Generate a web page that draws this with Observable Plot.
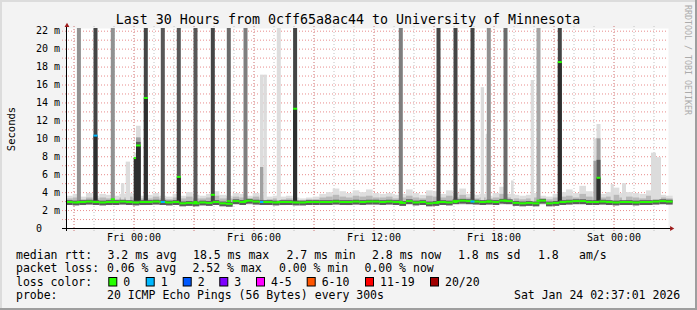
<!DOCTYPE html>
<html><head><meta charset="utf-8">
<script src="https://cdn.jsdelivr.net/npm/d3@7"></script>
<script src="https://cdn.jsdelivr.net/npm/@observablehq/plot@0.6"></script>
<style>
html,body{margin:0;padding:0;background:#f3f3f3;}
#wrap{position:relative;width:697px;height:310px;background:#f3f3f3;overflow:hidden;}
#wrap svg{position:absolute;left:0;top:0;}
</style></head><body><div id="wrap"></div>
<script>
// ---------------- DATA ----------------
// time axis in hours after Thu 21:00
const xTickPos = [3, 9, 15, 21, 27];
const xTickLabels = ["Fri 00:00", "Fri 06:00", "Fri 12:00", "Fri 18:00", "Sat 00:00"];
const yTickPos = [0, 2, 4, 6, 8, 10, 12, 14, 16, 18, 20, 22];
const yTickLabels = ["0\u00a0\u00a0\u00a0", "2 m", "4 m", "6 m", "8 m", "10 m", "12 m", "14 m", "16 m", "18 m", "20 m", "22 m"];
const xStart = -0.375, xEnd = 29.725, yTop = 22.3;

// baseline smoke, 20-minute blocks starting at xStart (values in ms, axis shows "m")
const baseStepMinutes = 20;
const baseMed = [2.9,2.85,2.9,2.95,2.9,2.85,2.9,2.9,2.95,2.9,
 2.85,2.9,2.9,2.95,2.9,2.85,2.9,2.75,2.8,2.75,
 2.85,2.8,2.9,2.75,2.7,3.0,2.9,3.05,2.95,2.9,
 2.9,2.85,2.9,2.9,2.85,2.85,2.9,2.9,2.9,2.9,
 2.95,2.9,2.9,2.95,2.9,2.95,2.95,2.9,2.95,2.9,
 2.8,3.0,2.85,2.9,2.75,2.8,2.9,2.85,3.0,3.05,
 3.0,2.95,2.9,2.95,2.9,3.05,3.0,2.8,2.75,2.8,
 2.75,3.05,2.75,2.8,2.9,2.95,3.0,3.0,2.9,2.9,
 2.95,2.9,2.85,2.9,2.9,2.85,2.9,2.9,2.95,3.0,2.95];
const baseLo = [2.6,2.6,2.55,2.6,2.6,2.6,2.55,2.6,2.6,2.6,
 2.6,2.55,2.6,2.6,2.6,2.55,2.6,2.5,2.5,2.55,
 2.6,2.55,2.6,2.5,2.5,2.6,2.6,2.6,2.55,2.6,
 2.6,2.6,2.55,2.6,2.6,2.55,2.6,2.6,2.6,2.6,
 2.6,2.6,2.55,2.6,2.6,2.6,2.6,2.6,2.6,2.6,
 2.5,2.6,2.55,2.6,2.5,2.55,2.6,2.55,2.6,2.6,
 2.6,2.6,2.6,2.6,2.6,2.6,2.6,2.55,2.5,2.55,
 2.5,2.6,2.5,2.55,2.6,2.6,2.6,2.6,2.6,2.6,
 2.6,2.6,2.55,2.6,2.6,2.55,2.6,2.6,2.6,2.6,2.6];
const baseMid = [3.3,3.4,3.2,3.4,3.3,3.4,3.3,3.2,3.4,3.5,
 3.3,3.3,3.3,3.5,3.3,3.2,3.4,3.3,3.5,3.3,
 3.3,3.4,3.6,3.3,3.3,3.5,3.4,3.3,3.5,3.3,
 3.2,3.3,3.2,3.3,3.1,3.1,3.2,3.2,3.4,3.5,
 3.7,3.5,3.4,3.6,3.5,3.6,3.4,3.4,3.5,3.3,
 3.4,3.6,3.4,3.3,3.6,3.5,3.4,3.6,3.4,3.7,
 3.4,3.3,3.4,3.3,3.4,3.8,3.4,3.3,3.2,3.3,
 3.4,3.3,3.2,3.4,3.5,3.6,3.4,3.8,3.5,3.4,
 3.4,3.5,3.7,3.4,3.5,3.4,3.3,3.6,3.4,3.4,3.3];
const baseHi = [3.6,3.8,3.5,3.9,3.6,3.8,3.7,3.6,3.8,3.9,
 3.7,3.6,3.7,3.9,3.6,3.5,3.8,3.6,4.0,3.7,
 3.6,3.8,4.1,3.7,3.6,3.9,3.8,3.6,3.9,3.7,
 3.5,3.6,3.5,3.6,3.4,3.3,3.4,3.5,3.8,4.0,
 4.4,4.1,3.9,4.2,4.0,4.3,3.9,3.8,3.9,3.7,
 3.8,4.3,3.9,3.7,4.2,4.1,3.8,4.2,3.9,4.4,
 3.8,3.7,3.8,3.6,3.9,4.6,3.8,3.7,3.6,3.7,
 3.9,3.6,3.5,3.8,4.0,4.3,3.9,4.7,4.1,3.9,
 3.8,4.0,4.5,3.9,4.0,3.9,3.8,4.2,3.9,3.7,3.6];

// spikes where some pings exceed the top of the graph
const spikeLow = 2.7;
const spikeMinutes = 12;
const spikeT    = [0.17, 1.0, 1.865, 3.515, 4.365, 5.165, 6.0, 6.865, 7.665, 8.5, 10.165, 10.98, 16.265, 18.15, 19.0, 19.85, 20.665, 21.5, 23.15, 24.215];
const spikeHigh = [5, 9, 5, 9, 8, 8, 8, 9, 7, 6, 1, 9, 6, 9, 9, 9, 5, 7, 4, 9]; // pings above top
const spikeMed  = [2.9, 10.3, 3.2, 14.5, 2.9, 5.7, 2.9, 3.7, 3.0, 3.0, 2.9, 13.3, 2.9, 2.9, 2.9, 2.95, 2.95, 3.05, 3.05, 18.5];
const spikeLoss = [0, 1, 0, 0, 1, 0, 0, 0, 0, 0, 0, 0, 0, 0, 0, 1, 0, 0, 0, 0];

// smaller bursts that stay inside the graph
const partT       = [2.375, 2.61, 3.01, 3.125, 9.325, 9.5, 20.36, 20.61, 21.875, 22.86, 26.0, 26.15, 26.86, 27.425, 28.875, 29.125];
const partMinutes = [10, 13, 7, 14, 10, 10, 10, 5, 8, 10, 9, 12, 9, 12, 15, 15];
const partLight   = [5.0, 7.4, 8.4, 11.4, 17.1, 17.1, 15.7, 10.5, 5.3, 16.5, 10.0, 11.6, 4.9, 5.0, 8.4, 7.9];
const partMid     = [null, null, null, 10.1, 6.8, null, null, null, null, null, 7.5, 10.0, null, null, null, null];
const partDark    = [null, null, null, 9.6, null, null, null, null, null, null, null, 7.6, null, null, null, null];
const partMed     = [null, null, 7.8, 9.2, 2.9, null, null, null, null, null, null, 5.6, null, null, null, null];
const partLoss    = [0, 0, 0, 0, 1, 0, 0, 0, 0, 0, 0, 0, 0, 0, 0, 0];

// legend
const lossLabels = ["0", "1", "2", "3", "4-5", "6-10", "11-19", "20/20"];
const lossColors = ["#26ff00", "#00b8ff", "#0059ff", "#7e00ff", "#ff00ff", "#ff5500", "#ff0000", "#a10000"];
const titleText = "Last 30 Hours from 0cff65a8ac44 to University of Minnesota";
const statsRtt = [["median rtt:", 16], ["3.2 ms avg", 107.5], ["18.5 ms max", 193], ["2.7 ms min", 286.5], ["2.8 ms now", 372], ["1.8 ms sd", 458], ["1.8", 538], ["am/s", 579]];
const statsLoss = [["packet loss:", 16], ["0.06 % avg", 107], ["2.52 % max", 192.5], ["0.00 % min", 279], ["0.00 % now", 364.5]];
const probeRow = [["probe:", 16], ["20 ICMP Echo Pings (56 Bytes) every 300s", 107], ["Sat Jan 24 02:37:01 2026", 514]];

// ---------------- BUILD ----------------
const smokeGray = k => { const v = Math.round(190 / 10 * (10 - k) + 50); return `rgb(${v},${v},${v})`; };
const base = baseMed.map((m, i) => ({t0: xStart + i * baseStepMinutes / 60, t1: xStart + (i + 1) * baseStepMinutes / 60, med: m, lo: baseLo[i], mid: baseMid[i], hi: baseHi[i]}));
const spikes = spikeT.map((t, i) => ({t0: t, t1: t + spikeMinutes / 60, k: spikeHigh[i], med: spikeMed[i], loss: spikeLoss[i], low: spikeLow, top: yTop}));
const parts = partT.map((t, i) => ({t0: t, t1: t + partMinutes[i] / 60, light: partLight[i], mid: partMid[i], dark: partDark[i], med: partMed[i], loss: partLoss[i], low: spikeLow}));
const medMarks = [...spikes, ...parts].filter(d => d.med != null);
const hourGrid = d3.range(Math.ceil(xStart), Math.floor(xEnd) + 1);
const majorGrid = hourGrid.filter(h => h % 3 === 0);
const meterGrid = d3.range(1, 23);
const xLab = new Map(xTickPos.map((p, i) => [p, xTickLabels[i]]));
const yLab = new Map(yTickPos.map((p, i) => [p, yTickLabels[i]]));
const R = {x1: "t0", x2: "t1"};

const chart = Plot.plot({
  width: 697, height: 310,
  marginLeft: 66, marginRight: 29, marginTop: 28, marginBottom: 82,
  x: {domain: [xStart, xEnd]},
  y: {domain: [0, yTop]},
  color: {type: "identity"},
  style: {background: "transparent", fontFamily: "'DejaVu Sans Mono', monospace", fontSize: "10px", color: "#000", overflow: "visible"},
  marks: [
    Plot.frame({fill: "#ffffff", stroke: null}),
    Plot.ruleX(hourGrid, {stroke: "#c2c2c2", strokeDasharray: "1,2", insetTop: -2, insetBottom: -3}),
    Plot.ruleX(majorGrid, {stroke: "#e88c8c", strokeDasharray: "1,2", insetTop: -2, insetBottom: -3}),
    Plot.ruleY(meterGrid, {stroke: "#e88c8c", strokeDasharray: "1,2", insetLeft: -4}),
    // baseline smoke
    Plot.rect(base, {...R, y1: "lo", y2: "hi", fill: "#dedede"}),
    Plot.rect(base, {...R, y1: "lo", y2: "mid", fill: "#b9b9b9", insetBottom: 1.5}),
    // bursts
    Plot.rect(parts, {...R, y1: "low", y2: "light", fill: "#dcdcdc"}),
    Plot.rect(parts.filter(d => d.mid != null), {...R, y1: "low", y2: "mid", fill: "#a0a0a0"}),
    Plot.rect(parts.filter(d => d.dark != null), {...R, y1: "low", y2: "dark", fill: "#5a5a5a"}),
    Plot.rect(spikes, {...R, y1: "low", y2: "top", fill: d => smokeGray(d.k)}),
    Plot.rect(medMarks.filter(d => d.med > 4), {...R, y1: "low", y2: "med", fill: "#2e2e2e"}),
    // median
    Plot.rect(base, {...R, y1: "med", y2: "med", insetTop: -1.8, insetBottom: -3, fill: "#5c5c5c"}),
    Plot.rect(base, {...R, y1: "med", y2: "med", insetTop: -1, insetBottom: -1, fill: lossColors[0]}),
    Plot.rect(medMarks, {...R, y1: "med", y2: "med", insetTop: -1, insetBottom: -1, fill: d => lossColors[d.loss]}),
    // axes
    Plot.ruleY([0], {stroke: "#000", insetLeft: -4, insetRight: -3}),
    Plot.ruleX([xStart], {stroke: "#000", insetTop: -3, insetBottom: -3}),
    Plot.dot([[xEnd, 0]], {x: d => d[0], y: d => d[1], symbol: "triangle2", r: 2.3, rotate: 90, fill: "#9e1a1a", stroke: null, dx: 3}),
    Plot.dot([[xStart, yTop]], {x: d => d[0], y: d => d[1], symbol: "triangle2", r: 2.3, fill: "#9e1a1a", stroke: null, dy: -3, dx: 0.5}),
    Plot.axisX({ticks: xTickPos, tickFormat: d => xLab.get(d), tickSize: 0, tickPadding: 5.4, label: null}),
    Plot.axisY({ticks: yTickPos, tickFormat: d => yLab.get(d), tickSize: 0, tickPadding: 6.5, label: null})
  ]
});
const wrap = document.getElementById("wrap");
wrap.appendChild(chart);

// overlay texts & legend
const ov = d3.select(wrap).append("svg").attr("width", 697).attr("height", 310)
  .attr("font-family", "'DejaVu Sans Mono', monospace");
// canvas border
ov.append("rect").attr("x", 0).attr("y", 0).attr("width", 697).attr("height", 2).attr("fill", "#dcdcdc");
ov.append("rect").attr("x", 0).attr("y", 0).attr("width", 2).attr("height", 310).attr("fill", "#dcdcdc");
ov.append("rect").attr("x", 695).attr("y", 0).attr("width", 2).attr("height", 310).attr("fill", "#9e9e9e");
ov.append("rect").attr("x", 0).attr("y", 308).attr("width", 697).attr("height", 2).attr("fill", "#9e9e9e");

ov.append("text").attr("x", 348).attr("y", 24).attr("text-anchor", "middle").attr("font-size", 13.3).attr("fill", "#000").text(titleText);
ov.append("text").attr("transform", "translate(14.5,129) rotate(-90)").attr("text-anchor", "middle").attr("font-size", 10.5).attr("fill", "#000").text("Seconds");
ov.append("text").attr("transform", "translate(685,5) rotate(90)").attr("text-anchor", "start").attr("font-size", 8.3).attr("fill", "#ababab").text("RRDTOOL / TOBI OETIKER");

const fs = 11.5;
const row = (items, y) => items.forEach(([t, x]) => ov.append("text").attr("x", x).attr("y", y).attr("font-size", fs).attr("fill", "#000").attr("xml:space", "preserve").text(t));
row(statsRtt, 258.5);
row(statsLoss, 272);
row([["loss color:", 16]], 285.7);
row(probeRow, 299.4);
const boxX = [108.3, 145.7, 182.7, 219.3, 256, 306.7, 365, 430];
lossLabels.forEach((l, i) => {
  ov.append("rect").attr("x", boxX[i] + 0.5).attr("y", 277.5).attr("width", 8).attr("height", 8.5).attr("fill", lossColors[i]).attr("stroke", "#000").attr("stroke-width", 1);
  ov.append("text").attr("x", boxX[i] + 15).attr("y", 285.7).attr("font-size", fs).attr("fill", "#000").text(l);
});
</script></body></html>
